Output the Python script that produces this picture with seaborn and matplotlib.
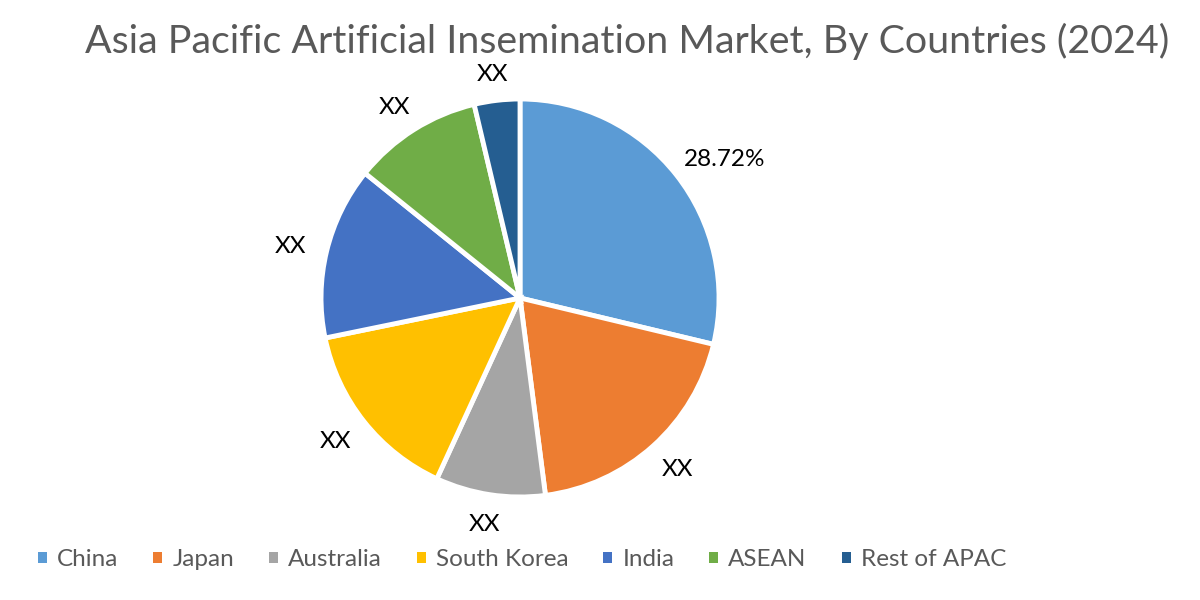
import matplotlib
matplotlib.use("Agg")
import matplotlib.pyplot as plt
from matplotlib.patches import Patch
import seaborn as sns
import numpy as np

categories = ["China", "Japan", "Australia", "South Korea", "India", "ASEAN", "Rest of APAC"]
shares = [28.72, 19.2, 8.9, 14.9, 14.0, 10.5, 3.7]
point_labels = ["28.72%", "XX", "XX", "XX", "XX", "XX", "XX"]
colors = ["#5B9BD5", "#ED7D31", "#A5A5A5", "#FFC000", "#4472C4", "#70AD47", "#255E91"]
title = "Asia Pacific Artificial Insemination Market, By Countries (2024)"

sns.set_theme(style="white")
plt.rcParams["font.family"] = ["Lato", "DejaVu Sans"]

fig = plt.figure(figsize=(12, 6), dpi=100)
ax = fig.add_axes([0.2675, 0.1717, 0.3317, 0.6633])
wedges, _ = ax.pie(
    shares, colors=colors, startangle=90, counterclock=False,
    wedgeprops=dict(edgecolor="white", linewidth=3.5),
)
ax.set_xlim(-1, 1)
ax.set_ylim(-1, 1)
ax.set_aspect("equal")

# outside-end labels: box touches a circle slightly beyond the pie edge
fig.canvas.draw()
r = fig.canvas.get_renderer()
for wdg, lab in zip(wedges, point_labels):
    phi = np.deg2rad((wdg.theta1 + wdg.theta2) / 2)
    cx, cy = np.cos(phi), np.sin(phi)
    t = ax.text(0, 0, lab, fontsize=17.5, color="black")
    bb = t.get_window_extent(r)
    t.remove()
    ax.annotate(lab, xy=(1.09 * cx, 1.09 * cy), xytext=(bb.width / 2 * cx + 3 * cx, bb.height / 2 * cy),
                textcoords="offset pixels", ha="center", va="center_baseline",
                fontsize=17.5, color="black", annotation_clip=False)

ttl = fig.text(0.5225, 1 - 53 / 600, title, ha="center", va="baseline", color="#595959", fontsize=28)
fig.canvas.draw()
w = ttl.get_window_extent(r).width
ttl.set_fontsize(28 * 1085 / w)

handles = [Patch(facecolor=c, edgecolor="none") for c in colors]
leg = fig.legend(handles, categories, loc="center", bbox_to_anchor=(0.435, 0.067), ncol=7,
                 frameon=False, fontsize=17.5, handlelength=0.37, handleheight=0.37,
                 handletextpad=0.41, columnspacing=1.44, labelcolor="#595959")

fig.savefig("out.png", dpi=100)
